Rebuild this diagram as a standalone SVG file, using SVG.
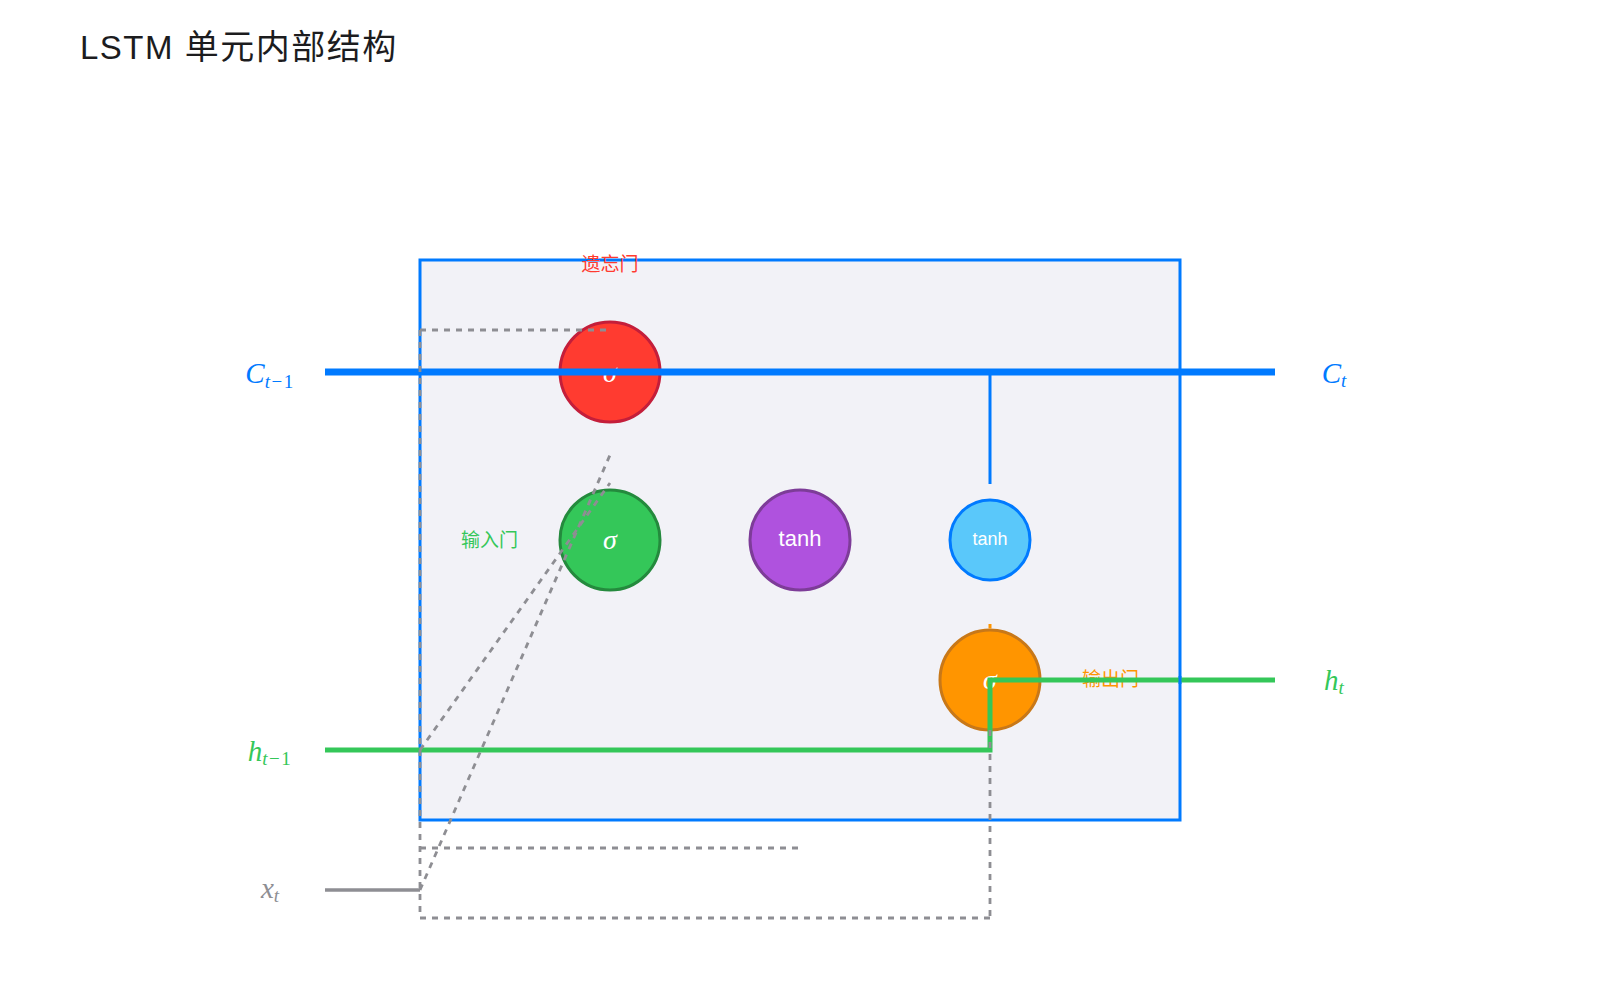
<svg xmlns="http://www.w3.org/2000/svg" width="1600" height="1000" viewBox="0 0 1600 1000">
<style>
.title{font-family:"Liberation Sans","Noto Sans CJK SC",sans-serif;font-size:32px;fill:#1C1C1E}
.gate{font-family:"Noto Sans CJK SC","Liberation Sans",sans-serif;font-size:19px}
.sig{font-family:"Liberation Serif",serif;font-style:italic;font-size:28px;fill:#fff;text-anchor:middle}
.tanh{font-family:"Liberation Sans",sans-serif;fill:#fff;text-anchor:middle}
.math{font-family:"Liberation Serif",serif;font-size:29px;text-anchor:middle}
.sub{font-size:19px}
.sub1{font-size:19px;letter-spacing:1.5px}
.it{font-style:italic}
.dash{fill:none;stroke:#8E8E93;stroke-width:2.8;stroke-dasharray:6 6}
</style>
<rect width="1600" height="1000" fill="#ffffff"/>
<text class="title" x="80" y="59"><tspan font-size="33" letter-spacing="1.5">LSTM </tspan><tspan font-family="Noto Sans CJK SC, sans-serif" font-size="34" letter-spacing="1.5">单元内部结构</tspan></text>

<g id="cell">
<rect x="420" y="260" width="760" height="560" fill="#F2F2F7" stroke="#007AFF" stroke-width="3"/>
</g>

<g id="forget-gate">
<circle cx="610" cy="372" r="50" fill="#FF3B30" stroke="#C41E3A" stroke-width="3"/>
<text class="sig" x="610" y="382">σ</text>
<text class="gate" x="610" y="271" fill="#FF3B30" text-anchor="middle">遗忘门</text>
</g>

<g id="input-gate">
<circle cx="610" cy="540" r="50" fill="#34C759" stroke="#248A3D" stroke-width="3"/>
<text class="sig" x="610" y="549">σ</text>
<text class="gate" x="518" y="547" fill="#34C759" text-anchor="end">输入门</text>
</g>

<g id="candidate">
<circle cx="800" cy="540" r="50" fill="#AF52DE" stroke="#7D3C98" stroke-width="3"/>
<text class="tanh" x="800" y="546" font-size="22">tanh</text>
</g>

<g id="cell-tanh">
<circle cx="990" cy="540" r="40" fill="#5AC8FA" stroke="#007AFF" stroke-width="3"/>
<text class="tanh" x="990" y="545" font-size="18">tanh</text>
</g>

<g id="output-gate">
<circle cx="990" cy="680" r="50" fill="#FF9500" stroke="#C87818" stroke-width="3"/>
<text class="sig" x="990" y="689">σ</text>
<text class="gate" x="1082" y="686" fill="#FF9500">输出门</text>
</g>

<g id="connectors">
<line x1="990" y1="624" x2="990" y2="628.5" stroke="#FF9500" stroke-width="3"/>
<line x1="325" y1="372" x2="1275" y2="372" stroke="#007AFF" stroke-width="7"/>
<line x1="990" y1="372" x2="990" y2="484" stroke="#007AFF" stroke-width="3"/>
<path d="M325,750 H990 V680 H1275" fill="none" stroke="#34C759" stroke-width="5"/>
<line x1="1180" y1="676" x2="1180" y2="684" stroke="#007AFF" stroke-width="3"/>
<line x1="325" y1="890" x2="420" y2="890" stroke="#8E8E93" stroke-width="3.5"/>
<line class="dash" x1="420" y1="330" x2="610" y2="330"/>
<line class="dash" x1="420" y1="330" x2="420" y2="918"/>
<line class="dash" x1="420" y1="918" x2="990" y2="918"/>
<line class="dash" x1="990" y1="730" x2="990" y2="918"/>
<line class="dash" x1="420" y1="848" x2="800" y2="848"/>
<line class="dash" x1="420" y1="890" x2="610" y2="455"/>
<line class="dash" x1="420" y1="750" x2="610" y2="483"/>
</g>

<g id="labels">
<text class="math" x="270" y="383" fill="#007AFF"><tspan class="it">C</tspan><tspan class="sub1" dy="5"><tspan class="it">t</tspan>−1</tspan></text>
<text class="math" x="1334" y="383" fill="#007AFF"><tspan class="it">C</tspan><tspan class="sub it" dy="4">t</tspan></text>
<text class="math" x="270" y="761" fill="#34C759"><tspan class="it">h</tspan><tspan class="sub1" dy="4"><tspan class="it">t</tspan>−1</tspan></text>
<text class="math" x="1334" y="690" fill="#34C759"><tspan class="it">h</tspan><tspan class="sub it" dy="4">t</tspan></text>
<text class="math" x="270" y="898" fill="#8E8E93"><tspan class="it">x</tspan><tspan class="sub it" dy="4">t</tspan></text>
</g>
</svg>
